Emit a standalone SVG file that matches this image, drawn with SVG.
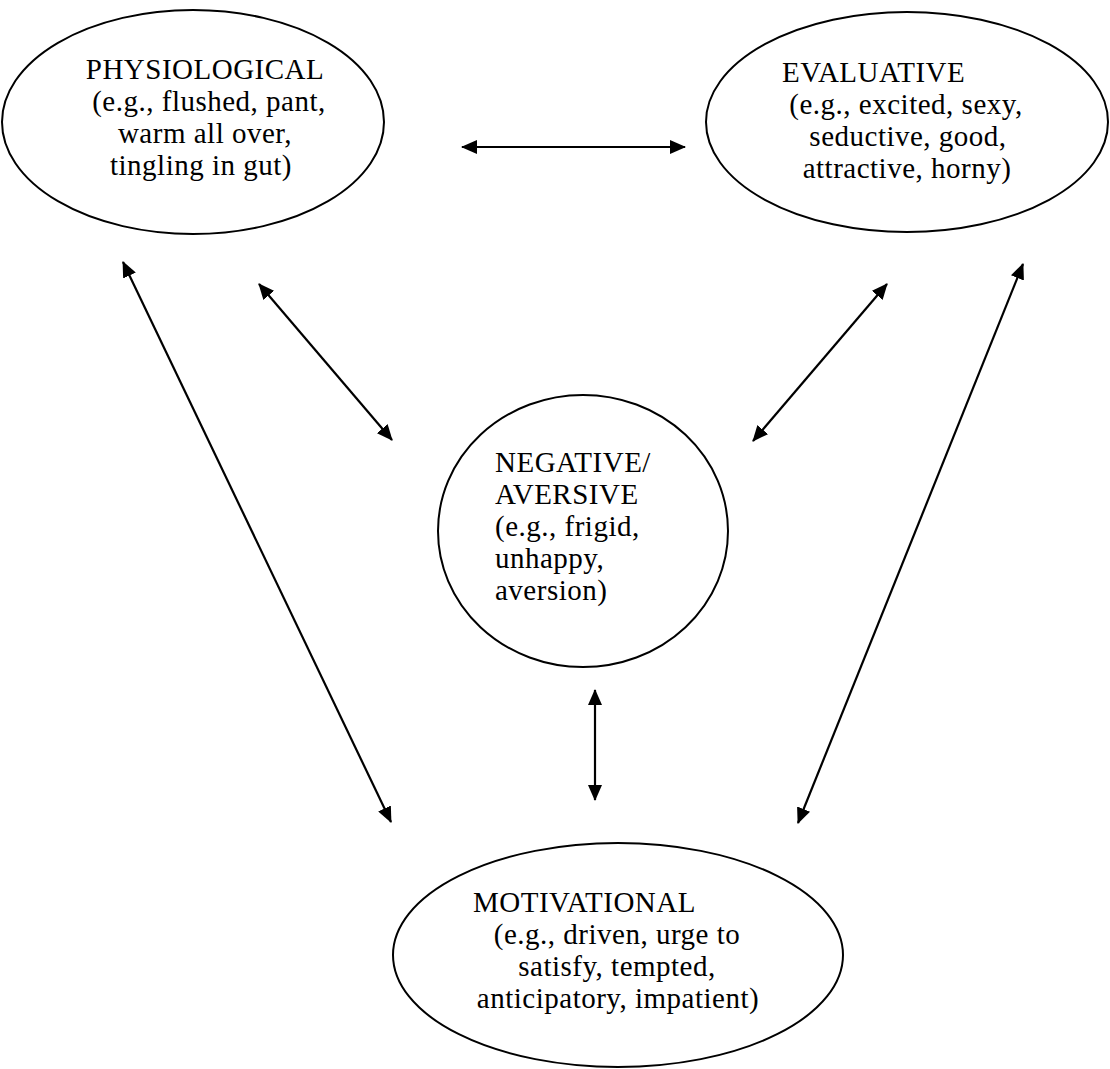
<svg xmlns="http://www.w3.org/2000/svg" width="1110" height="1069" viewBox="0 0 1110 1069">
<style>
.node{fill:#fff;stroke:#000;stroke-width:2}
.t{font-family:"Liberation Serif","Times New Roman",serif;font-size:29px;fill:#000;letter-spacing:0.5px}
.m{text-anchor:middle}
.c{stroke:#000;stroke-width:2.2;fill:none;marker-start:url(#ah);marker-end:url(#ah)}
</style>
<defs>
<marker id="ah" viewBox="0 0 16 14" refX="15" refY="7" markerWidth="16" markerHeight="14" markerUnits="userSpaceOnUse" orient="auto-start-reverse">
<path d="M0,0 L16,7 L0,14 z" fill="#000"/>
</marker>
</defs>
<rect width="1110" height="1069" fill="#fff"/>
<g id="connectors">
<line class="c" x1="462" y1="147" x2="685" y2="147"/>
<line class="c" x1="123" y1="262" x2="391" y2="822"/>
<line class="c" x1="259" y1="284" x2="392" y2="440"/>
<line class="c" x1="887" y1="284" x2="753" y2="441"/>
<line class="c" x1="1023" y1="264" x2="798" y2="823"/>
<line class="c" x1="595" y1="690" x2="595" y2="800"/>
</g>
<g id="physiological">
<ellipse class="node" cx="193" cy="122" rx="191" ry="112"/>
<text class="t m" x="205" y="79">PHYSIOLOGICAL</text>
<text class="t m" x="209" y="111">(e.g., flushed, pant,</text>
<text class="t m" x="205" y="143">warm all over,</text>
<text class="t m" x="201" y="175">tingling in gut)</text>
</g>
<g id="evaluative">
<ellipse class="node" cx="907" cy="122" rx="201" ry="110"/>
<text class="t" x="782" y="82">EVALUATIVE</text>
<text class="t m" x="906" y="114">(e.g., excited, sexy,</text>
<text class="t m" x="908" y="146">seductive, good,</text>
<text class="t m" x="907" y="178">attractive, horny)</text>
</g>
<g id="negative">
<ellipse class="node" cx="583" cy="531" rx="145" ry="136"/>
<text class="t" x="495" y="472">NEGATIVE/</text>
<text class="t" x="495" y="504">AVERSIVE</text>
<text class="t" x="495" y="536">(e.g., frigid,</text>
<text class="t" x="495" y="568">unhappy,</text>
<text class="t" x="495" y="600">aversion)</text>
</g>
<g id="motivational">
<ellipse class="node" cx="618" cy="955" rx="225" ry="112"/>
<text class="t" x="473" y="912">MOTIVATIONAL</text>
<text class="t m" x="617" y="944">(e.g., driven, urge to</text>
<text class="t m" x="617" y="976">satisfy, tempted,</text>
<text class="t m" x="618" y="1008">anticipatory, impatient)</text>
</g>
</svg>
